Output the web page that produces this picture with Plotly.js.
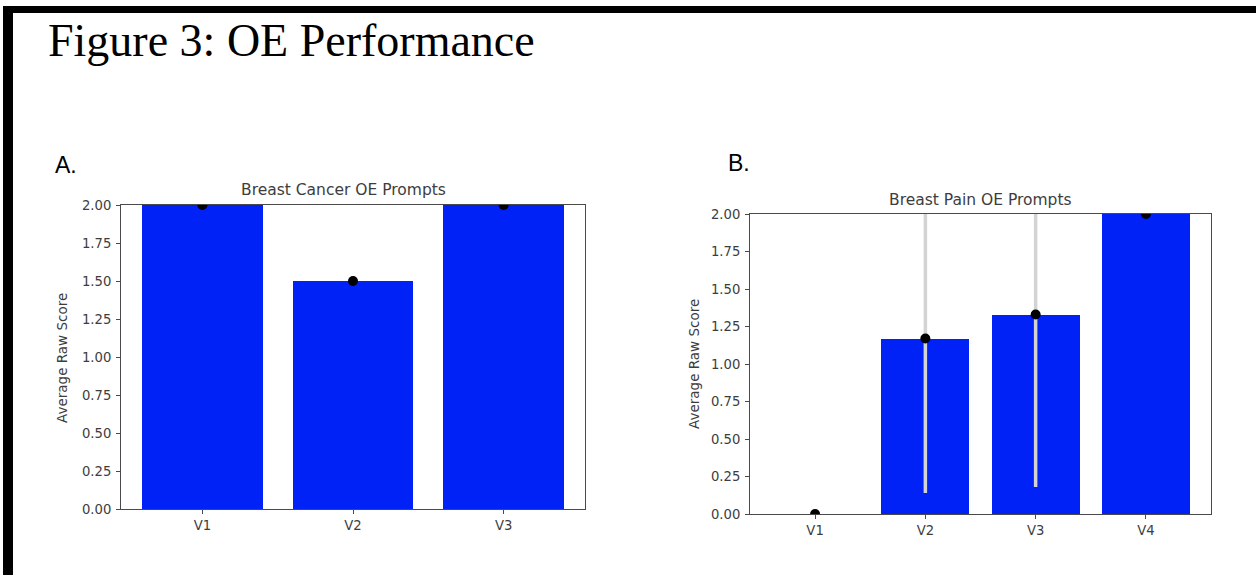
<!DOCTYPE html>
<html>
<head>
<meta charset="utf-8">
<script src="https://cdn.plot.ly/plotly-3.0.1.min.js"></script>
<style>
html,body{margin:0;padding:0;background:#fff;}
#chart{width:1256px;height:575px;}
</style>
</head>
<body>
<div id="chart"></div>
<script>
// ---- data ----
const figureTitle = 'Figure 3: OE Performance';
const titleA = 'Breast Cancer OE Prompts';
const titleB = 'Breast Pain OE Prompts';
const yLabel = 'Average Raw Score';
const catsA = ['V1', 'V2', 'V3'];
const meansA = [2.0, 1.5, 2.0];
const errA = [0, 0, 0];
const catsB = ['V1', 'V2', 'V3', 'V4'];
const meansB = [0.0, 1.17, 1.33, 2.0];
const errB = [0, 1.03, 1.15, 0];
const yTicks = [0, 0.25, 0.5, 0.75, 1.0, 1.25, 1.5, 1.75, 2.0];
const yTickText = ['0.00', '0.25', '0.50', '0.75', '1.00', '1.25', '1.50', '1.75', '2.00'];

// ---- styles ----
const W = 1256, H = 575;
const px = v => v / W;
const py = v => 1 - v / H;
const barColor = '#0022f6';
const axisColor = '#4a4a4a';
const textColor = '#3d3d3d';
const tickFont = {family: 'DejaVu Sans', size: 13.2, color: textColor};

const traces = [
  {type: 'bar', x: catsA, y: meansA, width: 0.8, marker: {color: barColor, line: {width: 0}},
   xaxis: 'x', yaxis: 'y', hoverinfo: 'x+y'},
  {type: 'scatter', mode: 'markers', x: catsA, y: meansA, xaxis: 'x', yaxis: 'y',
   marker: {color: '#000', size: 10}, cliponaxis: true,
   error_y: {type: 'data', array: errA, visible: true, color: '#d3d3d3', thickness: 3, width: 0}},
  {type: 'bar', x: catsB, y: meansB, width: 0.8, marker: {color: barColor, line: {width: 0}},
   xaxis: 'x2', yaxis: 'y2', hoverinfo: 'x+y'},
  {type: 'scatter', mode: 'markers', x: catsB, y: meansB, xaxis: 'x2', yaxis: 'y2',
   marker: {color: '#000', size: 10}, cliponaxis: true,
   error_y: {type: 'data', array: errB, visible: true, color: '#d3d3d3', thickness: 3.5, width: 0}}
];

const xCommon = {
  type: 'category', showline: true, mirror: true, linecolor: axisColor, linewidth: 1,
  ticks: 'outside', ticklen: 4, tickcolor: axisColor, tickwidth: 1,
  showgrid: false, zeroline: false, tickfont: tickFont, fixedrange: true
};
const yCommon = {
  range: [0, 2], showline: true, mirror: true, linecolor: axisColor, linewidth: 1,
  ticks: 'outside', ticklen: 4, tickcolor: axisColor, tickwidth: 1,
  tickvals: yTicks, ticktext: yTickText, ticklabelstandoff: 2,
  showgrid: false, zeroline: false, tickfont: tickFont, fixedrange: true
};

const layout = {
  width: W, height: H,
  margin: {l: 0, r: 0, t: 0, b: 0},
  paper_bgcolor: '#fff', plot_bgcolor: '#fff',
  showlegend: false,
  bargap: 0,
  xaxis: Object.assign({}, xCommon, {domain: [px(121), px(585)], range: [-0.54, 2.54], anchor: 'y'}),
  yaxis: Object.assign({}, yCommon, {domain: [py(509), py(205)], anchor: 'x'}),
  xaxis2: Object.assign({}, xCommon, {domain: [px(750), px(1211)], range: [-0.59, 3.59], anchor: 'y2'}),
  yaxis2: Object.assign({}, yCommon, {domain: [py(514), py(214)], anchor: 'x2'}),
  shapes: [
    {type: 'rect', xref: 'paper', yref: 'paper', x0: px(3), x1: px(1256), y0: py(13), y1: py(6),
     fillcolor: '#000', line: {width: 0}, layer: 'above'},
    {type: 'rect', xref: 'paper', yref: 'paper', x0: px(3), x1: px(13), y0: py(575), y1: py(6),
     fillcolor: '#000', line: {width: 0}, layer: 'above'}
  ],
  annotations: [
    {text: figureTitle, xref: 'paper', yref: 'paper', x: px(46), y: py(40), xanchor: 'left', yanchor: 'middle',
     showarrow: false, font: {family: 'Liberation Serif', size: 46, color: '#000'}},
    {text: 'A.', xref: 'paper', yref: 'paper', x: px(53), y: py(165), xanchor: 'left', yanchor: 'middle',
     showarrow: false, font: {family: 'Liberation Sans', size: 23, color: '#000'}},
    {text: 'B.', xref: 'paper', yref: 'paper', x: px(726), y: py(163), xanchor: 'left', yanchor: 'middle',
     showarrow: false, font: {family: 'Liberation Sans', size: 23, color: '#000'}},
    {text: titleA, xref: 'paper', yref: 'paper', x: px(343.5), y: py(190), xanchor: 'center', yanchor: 'middle',
     showarrow: false, font: {family: 'DejaVu Sans', size: 15.5, color: textColor}},
    {text: titleB, xref: 'paper', yref: 'paper', x: px(980.5), y: py(200), xanchor: 'center', yanchor: 'middle',
     showarrow: false, font: {family: 'DejaVu Sans', size: 15.5, color: textColor}},
    {text: yLabel, xref: 'paper', yref: 'paper', x: px(62), y: py(358), xanchor: 'center', yanchor: 'middle',
     textangle: -90, showarrow: false, font: {family: 'DejaVu Sans', size: 13.5, color: textColor}},
    {text: yLabel, xref: 'paper', yref: 'paper', x: px(694), y: py(364), xanchor: 'center', yanchor: 'middle',
     textangle: -90, showarrow: false, font: {family: 'DejaVu Sans', size: 13.5, color: textColor}}
  ]
};

Plotly.newPlot('chart', traces, layout, {displayModeBar: false, staticPlot: true});
</script>
</body>
</html>
